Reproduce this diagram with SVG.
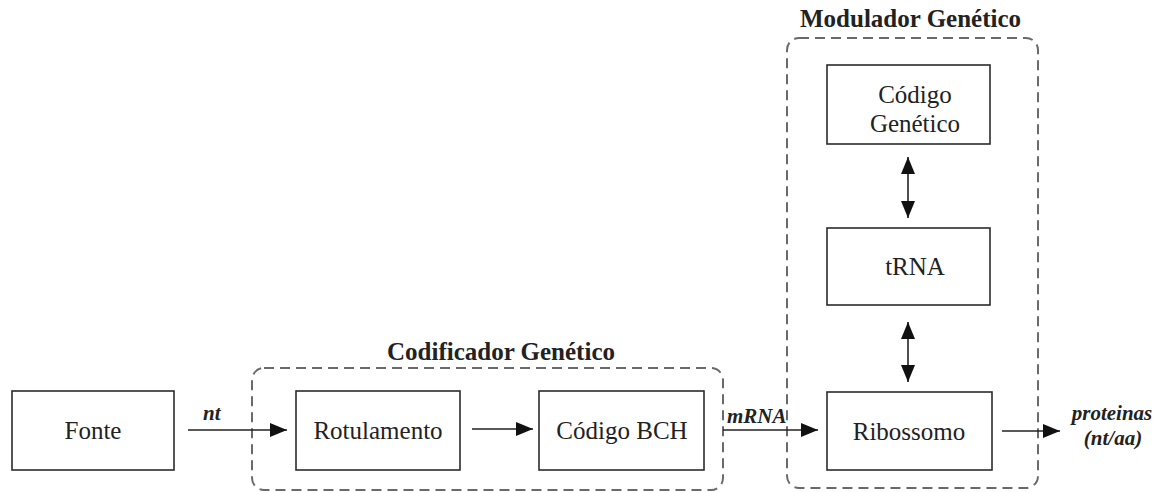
<svg xmlns="http://www.w3.org/2000/svg" width="1163" height="493" viewBox="0 0 1163 493">
<style>
.box{fill:#fff;stroke:#2b2b2b;stroke-width:1.6}
.grp{fill:none;stroke:#6a6a6a;stroke-width:2;stroke-dasharray:10 6}
.t{font-family:'Liberation Serif','Times New Roman',serif;font-size:25px;fill:#222;text-anchor:middle}
.title{font-family:'Liberation Serif','Times New Roman',serif;font-size:25px;font-weight:bold;fill:#222}
.lab{font-family:'Liberation Serif','Times New Roman',serif;font-size:21px;font-style:italic;font-weight:bold;fill:#222}
.c{fill:none;stroke:#222;stroke-width:1.6}
</style>
<defs>
<marker id="ah" markerWidth="18" markerHeight="14" refX="17" refY="7" orient="auto-start-reverse" markerUnits="userSpaceOnUse">
<path d="M0,0 L17,7 L0,14 z" fill="#111"/>
</marker>
</defs>
<g id="codificador">
<rect class="grp" x="252" y="368" width="471" height="122" rx="12"/>
<text class="title" x="387" y="360">Codificador Genético</text>
</g>
<g id="modulador">
<rect class="grp" x="787" y="38" width="251" height="450" rx="12"/>
<text class="title" x="800" y="27">Modulador Genético</text>
</g>
<g id="fonte">
<rect class="box" x="12" y="391" width="162" height="79"/>
<text class="t" x="93" y="439">Fonte</text>
</g>
<g id="rotulamento">
<rect class="box" x="296" y="391" width="164" height="79"/>
<text class="t" x="378" y="439">Rotulamento</text>
</g>
<g id="bch">
<rect class="box" x="539" y="391" width="165" height="79"/>
<text class="t" x="622" y="439">Código BCH</text>
</g>
<g id="codigo-genetico">
<rect class="box" x="827" y="65" width="163" height="79"/>
<text class="t" x="915" y="103">Código</text>
<text class="t" x="915" y="132">Genético</text>
</g>
<g id="trna">
<rect class="box" x="827" y="228" width="163" height="77"/>
<text class="t" x="915" y="275">tRNA</text>
</g>
<g id="ribossomo">
<rect class="box" x="827" y="392" width="165" height="78"/>
<text class="t" x="909" y="440">Ribossomo</text>
</g>
<g id="connectors">
<line class="c" x1="188" y1="430" x2="287" y2="430" marker-end="url(#ah)"/>
<text class="lab" x="203" y="420">nt</text>
<line class="c" x1="472" y1="429" x2="533" y2="429" marker-end="url(#ah)"/>
<line class="c" x1="723" y1="430" x2="818" y2="430" marker-end="url(#ah)"/>
<text class="lab" x="727" y="423">mRNA</text>
<line class="c" x1="908" y1="157" x2="908" y2="218" marker-start="url(#ah)" marker-end="url(#ah)"/>
<line class="c" x1="908" y1="322" x2="908" y2="382" marker-start="url(#ah)" marker-end="url(#ah)"/>
<line class="c" x1="1002" y1="431" x2="1060" y2="431" marker-end="url(#ah)"/>
<text class="lab" x="1112" y="420" text-anchor="middle">proteinas</text>
<text class="lab" x="1113" y="445" text-anchor="middle">(nt/aa)</text>
</g>
</svg>
